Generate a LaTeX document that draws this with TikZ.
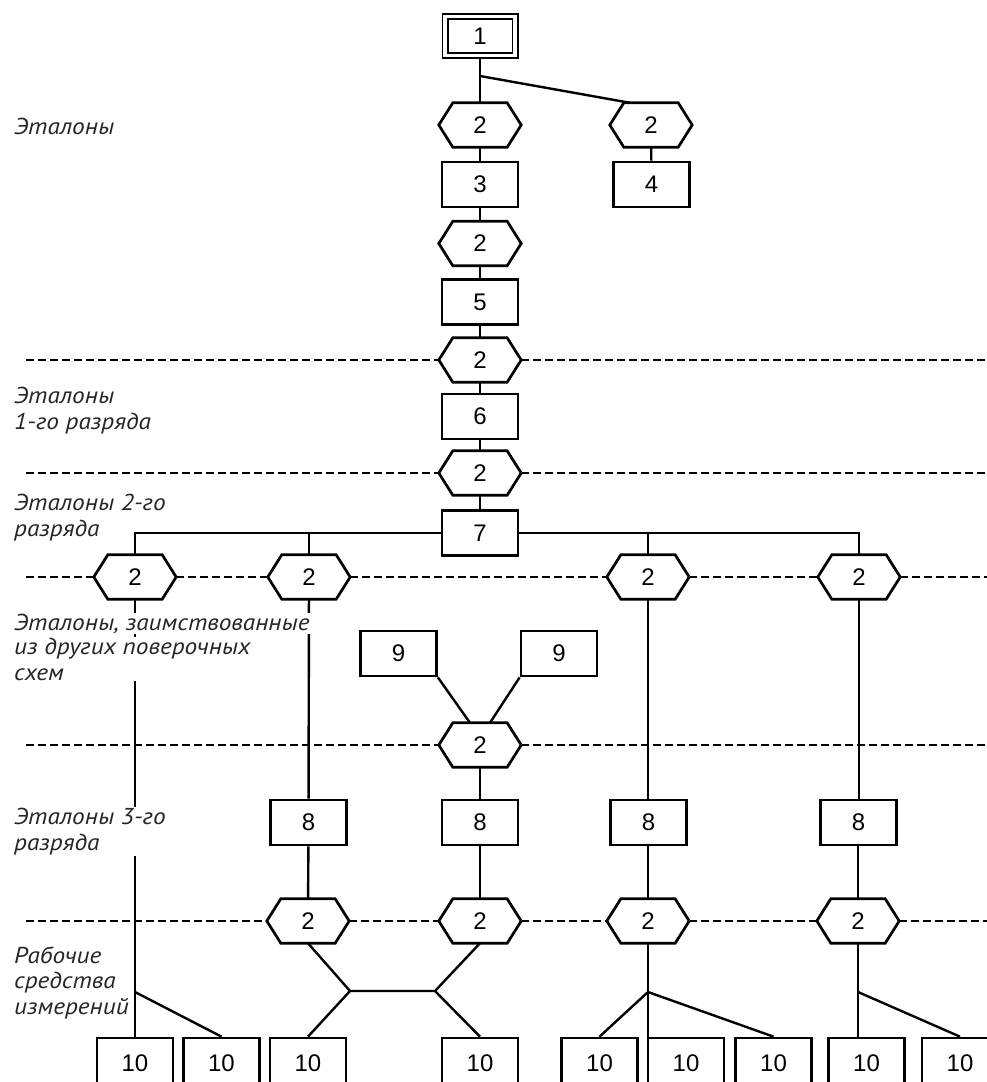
\documentclass[tikz,border=0pt]{standalone}
\usepackage{fontspec}
\setmainfont{Liberation Sans}
\newfontfamily\lblfont{PT Sans}[FakeStretch=1.1]
\usetikzlibrary{calc,backgrounds}
\tikzset{
  box/.style={draw, line width=2.7pt, minimum width=76pt, minimum height=45pt,
    inner sep=0pt, fill=white, font=\fontsize{24}{24}\selectfont},
  topbox/.style={draw, line width=1.8pt, double, double distance=3.4pt,
    minimum width=70pt, minimum height=39pt, inner sep=0pt,
    font=\fontsize{24}{24}\selectfont},
  hexn/.style={minimum width=82pt, minimum height=44pt, inner sep=0pt,
    font=\fontsize{24}{24}\selectfont},
  hexline/.style={line width=2.7pt, line join=miter},
  conn/.style={line width=2.4pt},
  lvl/.style={line width=2.2pt, dash pattern=on 8pt off 4pt},
  lbl/.style={anchor=base west, align=left, inner sep=1pt, fill=white,
    text=black!85, font=\lblfont\itshape\fontsize{23}{25.5}\selectfont},
}
\begin{document}
\begin{tikzpicture}[x=1pt,y=-1pt]
\useasboundingbox (0,0) rectangle (987,1082);
\clip (0,0) rectangle (987,1082);

% ---- boxes ----
\node[topbox] (b1) at (480,36) {1};
\node[box] (b3) at (480,184.5) {3};
\node[box] (b4) at (651.5,184.5) {4};
\node[box] (b5) at (480,302) {5};
\node[box] (b6) at (480,416.5) {6};
\node[box] (b7) at (480,533) {7};
\node[box] (b9a) at (398.5,653.5) {9};
\node[box] (b9b) at (559,653.5) {9};
\node[box] (b8a) at (308.5,822.5) {8};
\node[box] (b8b) at (480,822.5) {8};
\node[box] (b8c) at (648.5,822.5) {8};
\node[box] (b8d) at (858.5,822.5) {8};
\foreach \n/\x in {a/135,b/221.5,c/308,d/480,e/599.5,f/686,g/773.5,h/866.5,i/960}
  \node[box, minimum height=50pt] (b10\n) at (\x,1063) {10};

% ---- hexagons ----
\node[hexn] (hA) at (480,125) {2};
\node[hexn] (hB) at (651,125) {2};
\node[hexn] (hC) at (480,243.5) {2};
\node[hexn] (hD) at (480,360) {2};
\node[hexn] (hE) at (480,473) {2};
\node[hexn] (hF1) at (135,577) {2};
\node[hexn] (hF2) at (309,577) {2};
\node[hexn] (hF3) at (648,577) {2};
\node[hexn] (hF4) at (859,577) {2};
\node[hexn] (hM) at (480,745) {2};
\node[hexn] (hG1) at (308,921) {2};
\node[hexn] (hG2) at (480,921) {2};
\node[hexn] (hG3) at (648,921) {2};
\node[hexn] (hG4) at (858,921) {2};
\foreach \h in {hA,hB,hC,hD,hE,hF1,hF2,hF3,hF4,hM,hG1,hG2,hG3,hG4}
  \draw[hexline] (\h.west) -- ([xshift=14pt]\h.north west) -- ([xshift=-14pt]\h.north east)
    -- (\h.east) -- ([xshift=-14pt]\h.south east) -- ([xshift=14pt]\h.south west) -- cycle;

% ---- free ends of the level lines ----
\foreach \n/\y in {1/360,2/473,3/577,4/745,5/921} {
  \coordinate (L\n) at (26,\y);
  \coordinate (R\n) at (987,\y);
}
\coordinate (j1) at (480,76);
\coordinate (k1) at (135,992);
\coordinate (m1) at (350,991);
\coordinate (m2) at (435,991);
\coordinate (k3) at (648,992);
\coordinate (k4) at (858,992);

\begin{pgfonlayer}{background}
  % level lines
  \draw[lvl] (L1) -- (hD.west);  \draw[lvl] (hD.east) -- (R1);
  \draw[lvl] (L2) -- (hE.west);  \draw[lvl] (hE.east) -- (R2);
  \draw[lvl] (L3) -- (hF1.west); \draw[lvl] (hF1.east) -- (hF2.west);
  \draw[lvl] (hF2.east) -- (hF3.west); \draw[lvl] (hF3.east) -- (hF4.west);
  \draw[lvl] (hF4.east) -- (R3);
  \draw[lvl] (L4) -- (hM.west);  \draw[lvl] (hM.east) -- (R4);
  \draw[lvl] (L5) -- (hG1.west); \draw[lvl] (hG1.east) -- (hG2.west);
  \draw[lvl] (hG2.east) -- (hG3.west); \draw[lvl] (hG3.east) -- (hG4.west);
  \draw[lvl] (hG4.east) -- (R5);
  % main column
  \draw[conn] (b1) -- (hA);
  \draw[conn] (j1) -- ([xshift=-21pt]hB.north);
  \draw[conn] (hA) -- (b3);
  \draw[conn] (hB) -- (b4);
  \draw[conn] (b3) -- (hC);
  \draw[conn] (hC) -- (b5);
  \draw[conn] (b5) -- (hD);
  \draw[conn] (hD) -- (b6);
  \draw[conn] (b6) -- (hE);
  \draw[conn] (hE) -- (b7);
  % distribution from 7
  \draw[conn] (b7.west) -| (hF1.north);
  \draw[conn] (b7.east) -| (hF4.north);
  \draw[conn] (hF2.north) -- (hF2.north |- b7.west);
  \draw[conn] (hF3.north) -- (hF3.north |- b7.west);
  % borrowed standards
  \draw[conn] (b9a.south east) -- ([xshift=-10pt]hM.north);
  \draw[conn] (b9b.south west) -- ([xshift=10pt]hM.north);
  % third grade
  \draw[conn] (hF2) -- (b8a);
  \draw[conn] (hM) -- (b8b);
  \draw[conn] (hF3.south) -- (hF3.south |- b8c.north);
  \draw[conn] (hF4.south) -- (hF4.south |- b8d.north);
  \draw[conn] (b8a) -- (hG1);
  \draw[conn] (b8b) -- (hG2);
  \draw[conn] (b8c.south -| hG3) -- (hG3.north);
  \draw[conn] (b8d.south -| hG4) -- (hG4.north);
  % working instruments
  \draw[conn] (hF1.south) -- (b10a.north);
  \draw[conn] (k1) -- (b10b.north);
  \draw[conn] (hG1.south) -- (m1) -- (m2) -- (hG2.south);
  \draw[conn] (m1) -- (b10c.north);
  \draw[conn] (m2) -- (b10d.north);
  \draw[conn] (hG3.south) -- (hG3.south |- b10f.north);
  \draw[conn] (k3) -- (b10e.north);
  \draw[conn] (k3) -- (b10g.north);
  \draw[conn] (hG4.south) -- (hG4.south |- b10h.north);
  \draw[conn] (k4) -- (b10i.north);
\end{pgfonlayer}

% ---- level labels (anchor = baseline of the last line) ----
\node[lbl, fill=none] (t1) at (13,134) {Эталоны};
\node[lbl, fill=none] (t2) at (13,429) {Эталоны\\1-го разряда};
\node[lbl, fill=none] (t3) at (13,536) {Эталоны 2-го\\разряда};
\node[lbl] (t4a) at (13,630) {Эталоны, заимствованные};
\node[lbl] (t4b) at (13,680) {из других поверочных\\схем};
\node[lbl] (t5) at (13,850) {Эталоны 3-го\\разряда};
\node[lbl, fill=none] (t6) at (13,1014) {Рабочие\\средства\\измерений};
\end{tikzpicture}
\end{document}
